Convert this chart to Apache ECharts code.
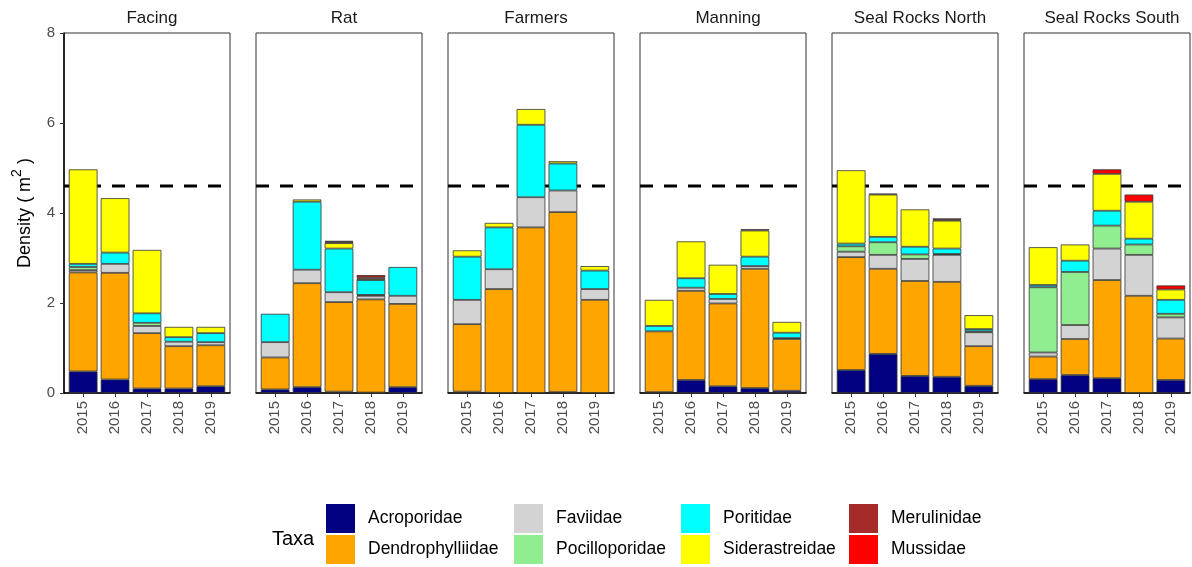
<!DOCTYPE html>
<html><head><meta charset="utf-8">
<script src="https://cdn.jsdelivr.net/npm/echarts@6/dist/echarts.min.js"></script>
<style>html,body{margin:0;padding:0;background:#fff}#c{width:1192px;height:567px}</style>
</head><body><div id="c"></div>
<script>
const sites = ['Facing', 'Rat', 'Farmers', 'Manning', 'Seal Rocks North', 'Seal Rocks South'];
const years = ['2015', '2016', '2017', '2018', '2019'];
const taxa = ['Acroporidae', 'Dendrophylliidae', 'Faviidae', 'Pocilloporidae', 'Poritidae', 'Siderastreidae', 'Merulinidae', 'Mussidae'];
const taxaColors = ['#000080', '#FFA500', '#D3D3D3', '#90EE90', '#00FFFF', '#FFFF00', '#A52A2A', '#FF0000'];
const yTicks = [0, 2, 4, 6, 8];
const threshold = 4.6;

// values: site-major (Facing, Rat, Farmers, Manning, SRN, SRS), 2015..2019 within each site
const acroporidae      = [0.48,0.30,0.10,0.10,0.15, 0.08,0.13,0.03,0.01,0.13, 0.03,0,0,0.02,0, 0.02,0.29,0.15,0.11,0.05, 0.51,0.87,0.38,0.36,0.16, 0.31,0.40,0.33,0,0.29];
const dendrophylliidae = [2.20,2.37,1.23,0.94,0.91, 0.71,2.31,1.99,2.07,1.85, 1.50,2.31,3.68,4.00,2.07, 1.35,1.98,1.84,2.65,1.15, 2.51,1.89,2.11,2.11,0.88, 0.50,0.80,2.18,2.16,0.92];
const faviidae         = [0.05,0.20,0.16,0.10,0.07, 0.34,0.30,0.22,0.08,0.18, 0.54,0.44,0.67,0.48,0.24, 0,0.07,0.10,0.06,0.02, 0.12,0.31,0.49,0.60,0.31, 0.09,0.31,0.70,0.91,0.47];
const pocilloporidae   = [0.07,0,0.07,0,0, 0,0,0,0.02,0, 0,0,0,0,0, 0,0,0,0,0, 0.12,0.28,0.10,0.02,0.02, 1.45,1.18,0.51,0.23,0.08];
const poritidae        = [0.07,0.25,0.21,0.10,0.20, 0.63,1.51,0.97,0.33,0.64, 0.96,0.93,1.61,0.60,0.41, 0.12,0.21,0.11,0.21,0.12, 0.06,0.12,0.17,0.12,0.05, 0.05,0.25,0.33,0.13,0.31];
const siderastreidae   = [2.10,1.21,1.41,0.23,0.14, 0,0.05,0.12,0.03,0, 0.14,0.10,0.35,0.05,0.10, 0.58,0.82,0.65,0.58,0.24, 1.63,0.94,0.83,0.62,0.31, 0.84,0.36,0.82,0.82,0.23];
const merulinidae      = [0,0,0,0,0, 0,0,0.03,0.03,0, 0,0,0,0,0, 0,0,0,0.03,0, 0,0.02,0,0.02,0, 0,0,0,0,0];
const mussidae         = [0,0,0,0,0, 0,0,0.02,0.05,0, 0,0,0,0,0, 0,0,0,0,0, 0,0,0,0.03,0, 0,0,0.10,0.16,0.09];

const taxaValues = [acroporidae, dendrophylliidae, faviidae, pocilloporidae, poritidae, siderastreidae, merulinidae, mussidae];

const FONT = 'Liberation Sans, Arial, sans-serif';
const panelLeft = 64, panelW = 166, panelStep = 192, panelTop = 33, panelH = 360;
const unit = panelW / 5.2;      // ggplot discrete scale: 5 categories + 0.6 expansion each side
const inset = unit * 0.1;       // so that category bands align with ggplot positions
const grids = [], xAxes = [], yAxes = [], series = [], titles = [];

sites.forEach((site, i) => {
  const left = panelLeft + i * panelStep;
  const fg = 2 * i, dg = 2 * i + 1;
  // frame grid: panel border, bottom axis line, y axis (first panel), threshold line
  grids.push({left: left, top: panelTop, width: panelW, height: panelH, show: true, borderColor: '#333', borderWidth: 1});
  xAxes.push({type: 'value', gridIndex: fg, min: 0, max: 1, splitLine: {show: false},
    axisLine: {show: true, onZero: false, lineStyle: {color: '#000', width: 1.5}},
    axisTick: {show: false}, axisLabel: {show: false}});
  yAxes.push({
    type: 'value', gridIndex: fg, min: yTicks[0], max: yTicks[yTicks.length - 1], interval: 2,
    show: i === 0,
    splitLine: {show: false},
    axisLine: {show: true, lineStyle: {color: '#000', width: 1.5}},
    axisTick: {show: true, length: 4, lineStyle: {color: '#333'}},
    axisLabel: {fontSize: 15, color: '#4d4d4d', margin: 9, fontFamily: FONT},
    name: i === 0 ? '{a|Density ( m}{s|2}{a| )}' : '',
    nameLocation: 'middle', nameRotate: 90, nameGap: 24,
    nameTextStyle: {fontSize: 18, color: '#000', fontFamily: FONT,
      rich: {a: {fontSize: 18, color: '#000', fontFamily: FONT}, s: {fontSize: 14, color: '#000', fontFamily: FONT, padding: [0, 0, 16, 0]}}}
  });
  // data grid
  grids.push({left: left + inset, top: panelTop, width: panelW - 2 * inset, height: panelH, show: false});
  xAxes.push({type: 'category', gridIndex: dg, data: years,
    axisLine: {show: false},
    axisTick: {show: true, alignWithLabel: true, length: 4, lineStyle: {color: '#333'}},
    axisLabel: {rotate: 90, fontSize: 15, color: '#4d4d4d', margin: 8, fontFamily: FONT}});
  yAxes.push({type: 'value', gridIndex: dg, min: yTicks[0], max: yTicks[yTicks.length - 1], show: false, splitLine: {show: false}});

  series.push({type: 'line', xAxisIndex: fg, yAxisIndex: fg, z: 1, silent: true, symbol: 'none',
    lineStyle: {color: '#000', width: 3, type: [13, 11]},
    data: [[0, threshold], [1, threshold]]});

  taxa.forEach((t, k) => {
    series.push({
      type: 'bar', name: t, xAxisIndex: dg, yAxisIndex: dg, stack: 'site' + i,
      barCategoryGap: '10%', z: 2,
      itemStyle: {color: taxaColors[k], borderColor: '#333', borderWidth: 0.8},
      emphasis: {disabled: true},
      data: years.map((y, j) => { const v = taxaValues[k][i * 5 + j]; return v > 0 ? v : '-'; })
    });
  });
  titles.push({text: site, left: left + panelW / 2, top: 5, textAlign: 'center',
    textStyle: {fontSize: 17, fontWeight: 'normal', color: '#1a1a1a', fontFamily: FONT}});
});

titles.push({text: 'Taxa', left: 267, top: 524, textStyle: {fontSize: 20, fontWeight: 'normal', color: '#000', fontFamily: FONT}});

const legendCols = [326, 514, 681, 849];
const legends = legendCols.map((lx, c) => ({
  orient: 'vertical', left: lx, top: 504, padding: 0, itemWidth: 29, itemHeight: 29, itemGap: 2, icon: 'rect',
  selectedMode: false,
  data: taxa.slice(c * 2, c * 2 + 2),
  itemStyle: {borderWidth: 0},
  textStyle: {fontSize: 17.5, color: '#000', padding: [4, 0, 0, 8], fontFamily: FONT}
}));

const chart = echarts.init(document.getElementById('c'), null, {renderer: 'canvas'});
chart.setOption({
  animation: false,
  backgroundColor: '#fff',
  textStyle: {fontFamily: FONT},
  title: titles,
  legend: legends,
  grid: grids,
  xAxis: xAxes,
  yAxis: yAxes,
  series: series
});
</script></body></html>
